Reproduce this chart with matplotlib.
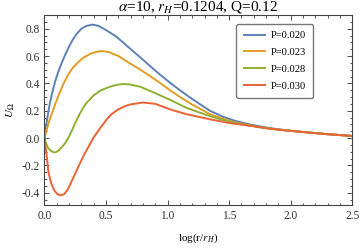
import matplotlib
matplotlib.use("Agg")
import matplotlib.pyplot as plt
from matplotlib.ticker import MultipleLocator, FormatStrFormatter

plt.rcParams['font.family'] = ['Liberation Serif', 'DejaVu Serif']
plt.rcParams['mathtext.fontset'] = 'stix'
plt.rcParams['axes.unicode_minus'] = False

# curve data
labels = ['P=0.020', 'P=0.023', 'P=0.028', 'P=0.030']
colors = ['#5E81B5', '#E19C24', '#8FB032', '#EB6235']

x_020 = [0, 0.01, 0.02, 0.031, 0.045, 0.06, 0.085, 0.11, 0.14, 0.166, 0.2, 0.23, 0.26,
         0.3, 0.34, 0.39, 0.44, 0.5, 0.586, 0.694, 0.775, 0.85, 0.93, 1.019, 1.1, 1.2,
         1.343, 1.45, 1.55, 1.668, 1.8, 1.9, 2.0, 2.15, 2.3, 2.5]
y_020 = [0, 0.07, 0.13, 0.19, 0.26, 0.32, 0.41, 0.48, 0.55, 0.605, 0.67, 0.72, 0.76,
         0.80, 0.82, 0.83, 0.82, 0.79, 0.74, 0.655, 0.592, 0.533, 0.47, 0.405, 0.35, 0.285,
         0.2, 0.155, 0.125, 0.099, 0.077, 0.064, 0.053, 0.04, 0.028, 0.015]

x_023 = [0, 0.015, 0.03, 0.05, 0.066, 0.09, 0.12, 0.153, 0.19, 0.23, 0.275, 0.32, 0.37,
         0.42, 0.464, 0.52, 0.6, 0.694, 0.775, 0.85, 0.93, 1.019, 1.1, 1.2, 1.343, 1.45,
         1.55, 1.668, 1.8, 1.9, 2.0, 2.15, 2.3, 2.5]
y_023 = [0, 0.05, 0.10, 0.155, 0.194, 0.255, 0.325, 0.395, 0.46, 0.515, 0.557, 0.59, 0.615,
         0.63, 0.636, 0.63, 0.6, 0.546, 0.502, 0.458, 0.408, 0.35, 0.3, 0.245, 0.175, 0.14,
         0.113, 0.092, 0.073, 0.062, 0.053, 0.04, 0.028, 0.015]

x_028 = [0, 0.015, 0.03, 0.05, 0.07, 0.085, 0.1, 0.12, 0.145, 0.17, 0.193, 0.22, 0.25,
         0.288, 0.33, 0.396, 0.45, 0.52, 0.58, 0.64, 0.694, 0.775, 0.87, 1.019, 1.15,
         1.343, 1.45, 1.55, 1.668, 1.8, 1.9, 2.0, 2.15, 2.3, 2.5]
y_028 = [0, -0.045, -0.073, -0.093, -0.103, -0.105, -0.1, -0.088, -0.062, -0.035, 0.0,
         0.05, 0.11, 0.18, 0.245, 0.31, 0.345, 0.372, 0.388, 0.395, 0.392, 0.376, 0.34,
         0.28, 0.222, 0.16, 0.132, 0.11, 0.09, 0.072, 0.061, 0.052, 0.04, 0.028, 0.015]

x_030 = [0, 0.01, 0.02, 0.031, 0.045, 0.058, 0.08, 0.105, 0.131, 0.16, 0.19, 0.234,
         0.28, 0.32, 0.36, 0.396, 0.45, 0.5, 0.545, 0.6, 0.65, 0.694, 0.8, 0.9, 1.019,
         1.15, 1.343, 1.5, 1.668, 1.8, 1.9, 2.0, 2.15, 2.3, 2.5]
y_030 = [0, -0.07, -0.15, -0.242, -0.3, -0.34, -0.385, -0.41, -0.42, -0.41, -0.375,
         -0.29, -0.2, -0.125, -0.06, 0.0, 0.07, 0.13, 0.175, 0.21, 0.232, 0.245, 0.26,
         0.25, 0.21, 0.175, 0.137, 0.11, 0.09, 0.072, 0.061, 0.052, 0.04, 0.028, 0.015]

xs = [x_020, x_023, x_028, x_030]
ys = [y_020, y_023, y_028, y_030]

fig = plt.figure(figsize=(3.6, 2.5), dpi=100)
ax = fig.add_axes([0.1236, 0.18, 0.855, 0.76])

for x, y, c, lab in zip(xs, ys, colors, labels):
    ax.plot(x, y, color=c, linewidth=1.4, label=lab, solid_joinstyle='round')

ax.set_xlim(0, 2.5)
ax.set_ylim(-0.49, 0.9)

ax.xaxis.set_major_locator(MultipleLocator(0.5))
ax.xaxis.set_minor_locator(MultipleLocator(0.1))
ax.yaxis.set_major_locator(MultipleLocator(0.2))
ax.yaxis.set_minor_locator(MultipleLocator(0.05))
ax.xaxis.set_major_formatter(FormatStrFormatter('%.1f'))
ax.yaxis.set_major_formatter(FormatStrFormatter('%.1f'))

ax.tick_params(which='both', direction='in', top=True, right=True,
               labelsize=8.3, colors='#333333', width=0.6)
ax.tick_params(which='major', length=3.5)
ax.tick_params(which='minor', length=1.8)
for s in ax.spines.values():
    s.set_color('#444444')
    s.set_linewidth(0.8)

ax.set_title(r'$\alpha$=10, $r_H$=0.1204, Q=0.12', fontsize=11, pad=1)
ax.set_xlabel(r'log(r/$r_H$)', fontsize=8, labelpad=7)
ax.set_ylabel(r'$U_\Omega$', fontsize=8, labelpad=3)

leg = ax.legend(loc='upper right', bbox_to_anchor=(0.872, 0.955), borderaxespad=0,
                fontsize=7.6, frameon=True, fancybox=True, handlelength=2.0,
                labelspacing=0.7, borderpad=0.7, handletextpad=0.5)
leg.get_frame().set_edgecolor('#777777')
leg.get_frame().set_linewidth(1.0)
leg.get_frame().set_alpha(1)

fig.savefig('out.png', dpi=100)
